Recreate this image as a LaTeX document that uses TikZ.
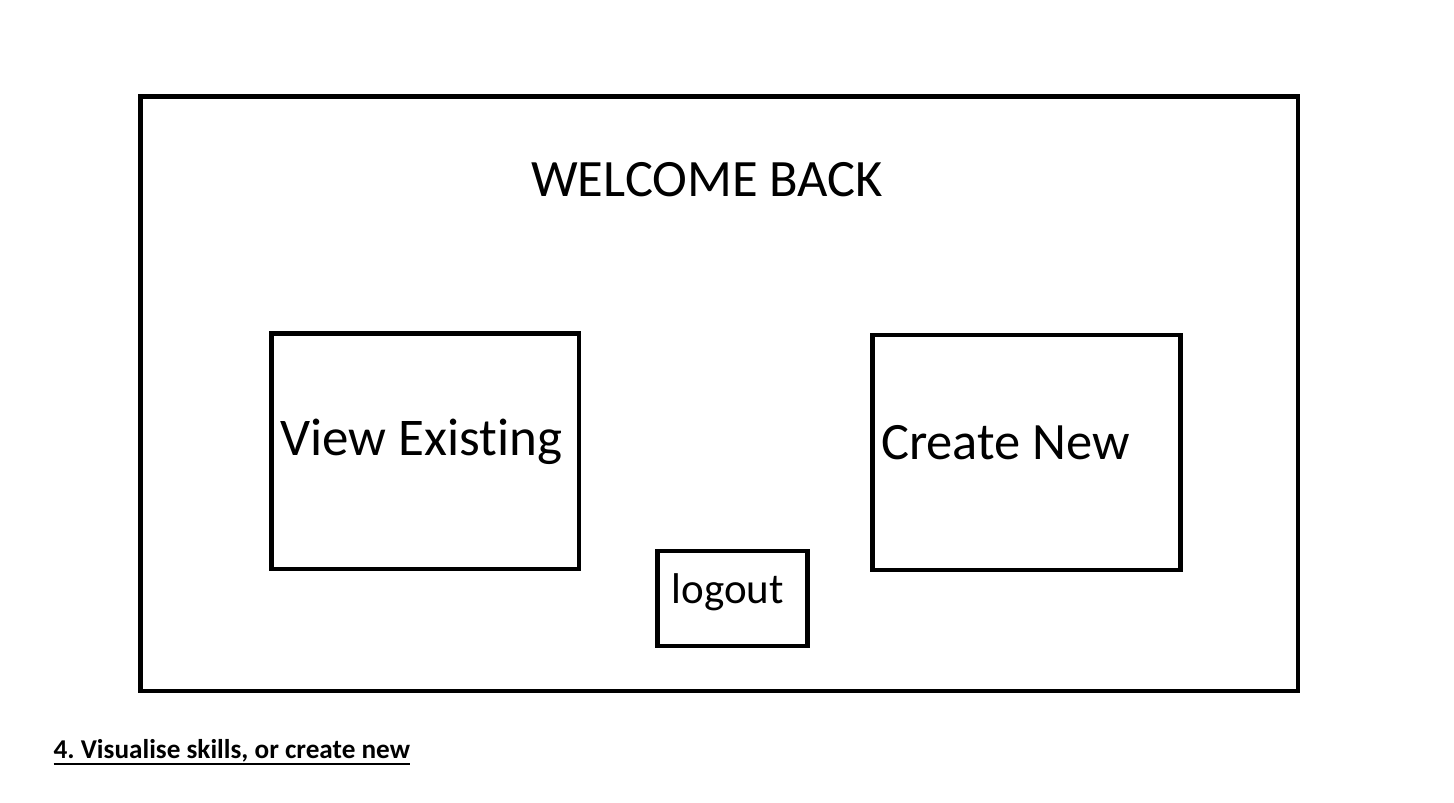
\documentclass[tikz,border=0pt]{standalone}
\usepackage{fontspec}
\setmainfont{Carlito}[Ligatures={NoCommon}]
\usetikzlibrary{calc}
\frenchspacing
\begin{document}
\begin{tikzpicture}[x=1pt,y=-1pt,
  frame/.style={draw=black,line width=4.5pt},
  label/.style={inner sep=0pt,anchor=base west}]
  \useasboundingbox[fill=white] (0,0) rectangle (1454,803);
  % screen outline and buttons
  \draw[frame] (140.5,96.5) rectangle (1298,691);
  \draw[frame] (271.5,333.5) rectangle (579,569);
  \draw[frame] (872.5,335) rectangle (1180.5,570);
  \draw[frame] (657.5,551) rectangle (807.5,646);
  % texts
  \node[label,font=\fontsize{52.5}{63}\selectfont] (title) at (531,196.7) {WELCOME BACK};
  \node[label,font=\fontsize{53}{64}\selectfont] (view) at (280,455) {View Existing};
  \node[label,font=\fontsize{52.5}{63}\selectfont] (create) at (881,459.3) {Create New};
  \node[label,font=\fontsize{43}{52}\selectfont] (logout) at (671.5,603.3) {logout};
  \node[label,font=\fontsize{27.2}{33}\selectfont\bfseries] (cap) at (53.5,758.3) {4. Visualise skills, or create new};
  \draw[line width=2pt] ($(cap.base west)+(0,5.5)$) -- ($(cap.base east)+(0,5.5)$);
\end{tikzpicture}
\end{document}
